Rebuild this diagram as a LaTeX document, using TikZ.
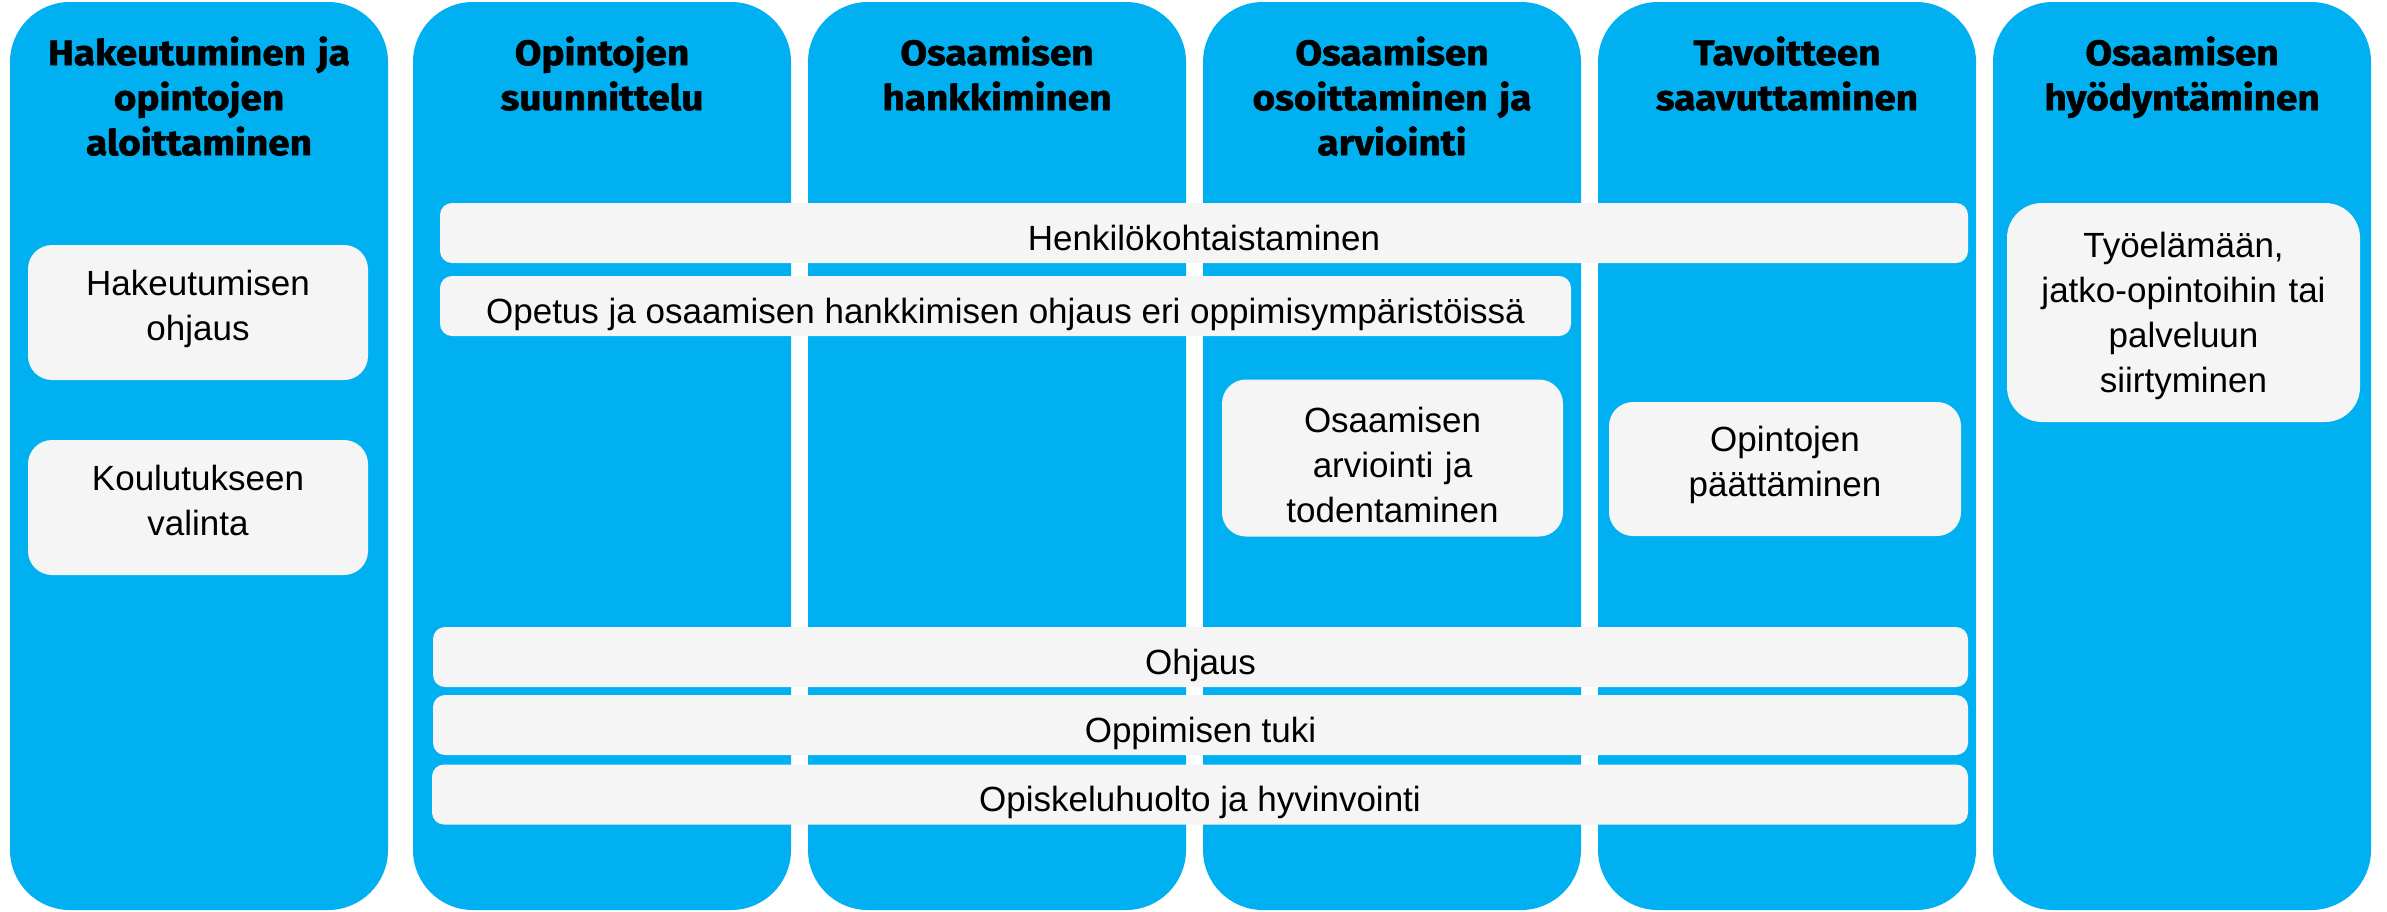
\documentclass[tikz,border=0pt]{standalone}
\usepackage{fontspec}
\setmainfont{Liberation Sans}
\newfontfamily\headfont[BoldFeatures={FakeBold=1.5,FakeStretch=1.09}]{Fira Sans}
\definecolor{colblue}{HTML}{00B0F0}
\definecolor{boxgray}{HTML}{F5F5F5}
\tikzset{
  column/.style={fill=colblue, rounded corners=60pt},
  head/.style={font=\headfont\bfseries\fontsize{35.5}{45}\selectfont, align=center, text width=370pt, text height=26pt, inner sep=0pt, anchor=north, text=black},
  gbox/.style={fill=boxgray, align=center, inner sep=0pt, text=black, font=\fontsize{35}{45}\selectfont},
  bigbox/.style={gbox, rounded corners=24pt, text width=300pt, text height=25pt},
  bar/.style={gbox, rounded corners=12pt, minimum height=60pt, text height=36pt, text depth=2pt},
}
\begin{document}
\begin{tikzpicture}[x=1pt, y=-1pt]
\path[use as bounding box, fill=white] (0,0) rectangle (2387,911);
% columns
\path[column] (10,2) rectangle (388,910);
\path[column] (413,2) rectangle (791,910);
\path[column] (808,2) rectangle (1186,910);
\path[column] (1203,2) rectangle (1581,910);
\path[column] (1598,2) rectangle (1976,910);
\path[column] (1993,2) rectangle (2371,910);
% headings
\node[head] (h1) at (199,39) {Hakeutuminen ja\\opintojen\\aloittaminen};
\node[head] (h2) at (602,39) {Opintojen\\suunnittelu};
\node[head] (h3) at (997,39) {Osaamisen\\hankkiminen};
\node[head] (h4) at (1392,39) {Osaamisen\\osoittaminen ja\\arviointi};
\node[head] (h5) at (1787,39) {Tavoitteen\\saavuttaminen};
\node[head] (h6) at (2182,39) {Osaamisen\\hyödyntäminen};
% boxes
\node[bigbox, minimum width=340pt, minimum height=135pt, text depth=60pt] (hak) at (198,312.5) {Hakeutumisen\\ohjaus};
\node[bigbox, minimum width=340pt, minimum height=135pt, text depth=60pt] (koul) at (198,507.5) {Koulutukseen\\valinta};
\node[bigbox, minimum width=341pt, minimum height=157pt, text depth=77pt] (arv) at (1392.5,458) {Osaamisen\\arviointi ja\\todentaminen};
\node[bigbox, minimum width=352pt, minimum height=134pt, text depth=60pt] (paat) at (1785,469) {Opintojen\\päättäminen};
\node[bigbox, rounded corners=35pt, text width=340pt, minimum width=353pt, minimum height=219pt, text depth=136pt] (tyo) at (2183.5,312.5) {Työelämään,\\jatko-opintoihin tai\\palveluun\\siirtyminen};
% bars
\node[bar, minimum width=1528pt] (henk) at (1204,233) {Henkilökohtaistaminen};
\node[bar, minimum width=1131pt] (opet) at (1005.5,306) {Opetus ja osaamisen hankkimisen ohjaus eri oppimisympäristöissä};
\node[bar, minimum width=1535pt] (ohj) at (1200.5,657) {Ohjaus};
\node[bar, minimum width=1535pt] (tuki) at (1200.5,725) {Oppimisen tuki};
\node[bar, minimum width=1536pt] (opisk) at (1200,794.5) {Opiskeluhuolto ja hyvinvointi};
\end{tikzpicture}
\end{document}
